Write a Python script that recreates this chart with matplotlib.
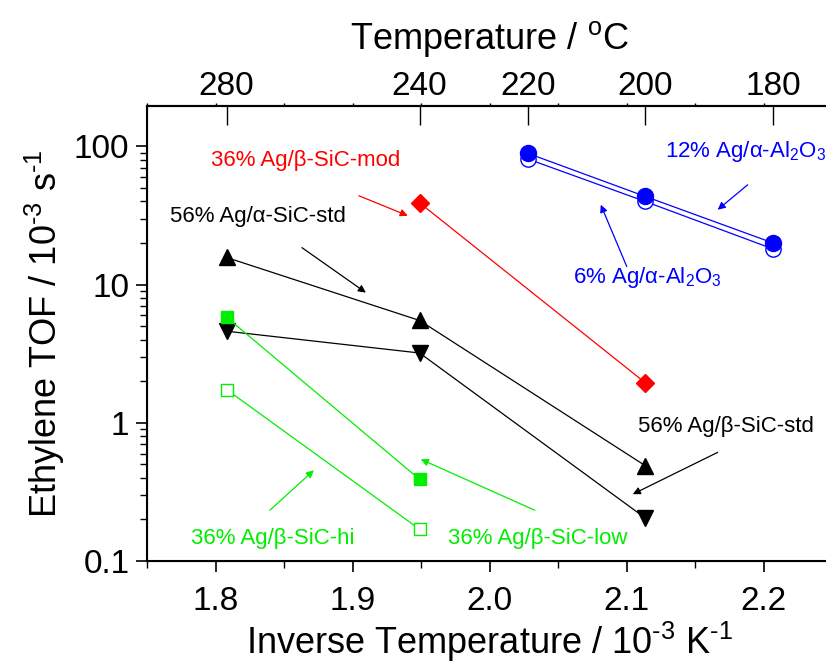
import numpy as np
import matplotlib
matplotlib.use("Agg")
import matplotlib.pyplot as plt

plt.rcParams['font.family'] = ['Liberation Sans', 'DejaVu Sans']
plt.rcParams['mathtext.fontset'] = 'custom'
plt.rcParams['mathtext.rm'] = 'Liberation Sans'
plt.rcParams['mathtext.it'] = 'Liberation Sans'

# data: temperatures in C, TOF in 10^-3 s^-1
temps_sic = [280, 240, 200]
tof_up = [15.7, 5.5, 0.49]          # 56% Ag/b-SiC-std (up triangles)
tof_down = [4.6, 3.2, 0.205]        # 56% Ag/a-SiC-std (down triangles)
temps_mod = [240, 200]
tof_mod = [39, 1.95]                # 36% Ag/b-SiC-mod
temps_green = [280, 240]
tof_low = [5.8, 0.39]               # 36% Ag/b-SiC-low
tof_hi = [1.74, 0.17]               # 36% Ag/b-SiC-hi
temps_al = [220, 200, 180]
tof_al12 = [89, 43.4, 20.0]         # 12% Ag/a-Al2O3
tof_al6 = [81, 39.9, 18.1]          # 6% Ag/a-Al2O3

top_ticks = [280, 240, 220, 200, 180]


def inv(t):
    return 1000.0 / (np.array(t) + 273.15)


fig = plt.figure(figsize=(8.26, 6.68), dpi=100)
ax = fig.add_axes([0.1785, 0.160, 0.829, 0.681])

ax.plot(inv(temps_sic), tof_up, color='black', lw=0.9, marker='^', ms=12)
ax.plot(inv(temps_sic), tof_down, color='black', lw=0.9, marker='v', ms=12)
ax.plot(inv(temps_mod), tof_mod, color='red', lw=0.9, marker='D', ms=9)
ax.plot(inv(temps_green), tof_low, color='#00ee00', lw=0.9, marker='s', ms=9)
ax.plot(inv(temps_green), tof_hi, color='#00ee00', lw=0.9, marker='s', ms=9,
        mfc='white', mew=1.0)
ax.plot(inv(temps_al), tof_al6, color='blue', lw=0.9, marker='o', ms=11,
        mfc='white', mew=1.0)
ax.plot(inv(temps_al), tof_al12, color='blue', lw=0.9, marker='o', ms=11.5)

ax.set_yscale('log')
ax.set_xlim(1.75, 2.25)
ax.set_ylim(0.1, 195)
ax.set_xticks([1.8, 1.9, 2.0, 2.1, 2.2])
ax.set_xticklabels(['1.8', '1.9', '2.0', '2.1', '2.2'])
ax.set_xticks(np.arange(1.75, 2.26, 0.05), minor=True)
ax.set_yticks([0.1, 1, 10, 100])
ax.set_yticklabels(['0.1', '1', '10', '100'])

for s in ['left', 'bottom', 'top']:
    ax.spines[s].set_linewidth(1.5)
ax.spines['right'].set_visible(False)

ax.tick_params(axis='both', which='major', labelsize=24, length=8, width=1.2,
               direction='out')
ax.tick_params(axis='x', which='major', pad=10)
ax.tick_params(axis='y', which='major', pad=5)
ax.tick_params(axis='both', which='minor', length=5, width=1.0, direction='out')

ax.set_xlabel(r'Inverse Temperature / 10$^{\text{-3}}$ K$^{\text{-1}}$', fontsize=26, labelpad=2)
ax.set_ylabel(r'Ethylene TOF / 10$^{\text{-3}}$ s$^{\text{-1}}$', fontsize=26, labelpad=5)

# top temperature axis
ax2 = ax.twiny()
ax2.set_xlim(ax.get_xlim())
ax2.set_xticks(inv(top_ticks))
ax2.set_xticklabels([str(t) for t in top_ticks])
ax2.set_xticks(np.arange(1.75, 2.26, 0.05), minor=True)
ax2.tick_params(axis='x', which='major', direction='in', length=14, width=1.0,
                labelsize=24, pad=3)
ax2.tick_params(axis='x', which='minor', direction='out', length=2.5, width=1.0)
ax2.spines['right'].set_visible(False)
ax2.spines['top'].set_linewidth(1.5)
ax2.set_xlabel(r'Temperature / $^{\mathrm{o}}$C', fontsize=26, labelpad=16)


# labels and arrows
def arrow(tail, head, color):
    ax.annotate('', xy=head, xytext=tail,
                arrowprops=dict(arrowstyle='-|>', color=color, lw=0.9,
                                mutation_scale=11, shrinkA=0, shrinkB=0))


ax.text(1.7964, 72.3, '36% Ag/β-SiC-mod', color='red', fontsize=16)
arrow((1.9044, 43.9), (1.9401, 31.5), 'red')

ax.text(1.7664, 28.5, '56% Ag/α-SiC-std', color='black', fontsize=16)
arrow((1.8628, 18.5), (1.9095, 8.75), 'black')

ax.text(2.108, 0.854, '56% Ag/β-SiC-std', color='black', fontsize=16)
arrow((2.1664, 0.612), (2.1044, 0.305), 'black')

ax.text(1.7818, 0.133, '36% Ag/β-SiC-hi', color='#00ee00', fontsize=16)
arrow((1.8394, 0.2335), (1.8715, 0.454), '#00ee00')

ax.text(1.9693, 0.133, '36% Ag/β-SiC-low', color='#00ee00', fontsize=16)
arrow((2.0328, 0.2335), (1.9496, 0.545), '#00ee00')

ax.text(2.1277, 84, r'12% Ag/α-Al$_2$O$_3$', color='blue', fontsize=16)
arrow((2.1883, 52.7), (2.1664, 34.8), 'blue')

ax.text(2.0606, 10.3, r'6% Ag/α-Al$_2$O$_3$', color='blue', fontsize=16)
arrow((2.10, 13.5), (2.081, 37.8), 'blue')

fig.savefig('out.png', dpi=100)
